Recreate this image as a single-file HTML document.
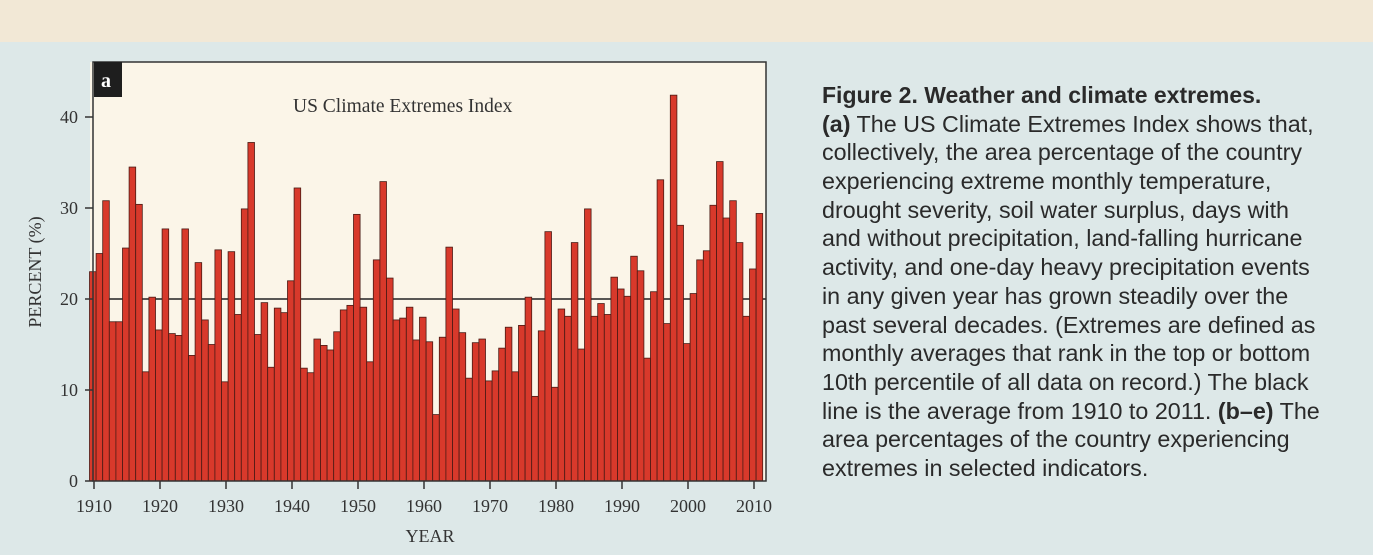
<!DOCTYPE html>
<html><head><meta charset="utf-8"><style>
body{margin:0;width:1373px;height:555px;overflow:hidden;background:#dde8e8;font-family:"Liberation Sans",sans-serif;}
#bgtop{position:absolute;left:0;top:0;width:1373px;height:42px;background:#f2e8d6;}
#cap{position:absolute;left:822px;top:81px;width:545px;font-size:23.3px;line-height:28.7px;color:#2a2a2a;white-space:nowrap;}
#cap div{height:28.7px;}
</style></head><body>
<div id="bgtop"></div>
<svg width="1373" height="555" style="position:absolute;left:0;top:0">
<rect x="90" y="62" width="676" height="419" fill="#fbf5e8"/>
<g id="grid"></g>
<g id="bars"></g>
<g id="axes"></g>
<rect x="94" y="62" width="28" height="35" fill="#1e1e1e"/>
<text x="101" y="87" font-family="Liberation Serif,serif" font-size="20" font-weight="bold" fill="#fff">a</text>
<text x="293" y="112" font-family="Liberation Serif,serif" font-size="19.5" fill="#333">US Climate Extremes Index</text>
<text x="430" y="542" text-anchor="middle" font-family="Liberation Serif,serif" font-size="18" fill="#333">YEAR</text>
<text transform="translate(41,272) rotate(-90)" text-anchor="middle" font-family="Liberation Serif,serif" font-size="18" fill="#333">PERCENT (%)</text>
</svg>
<div id="cap">
<div><b style="font-size:23px">Figure 2. Weather and climate extremes.</b></div>
<div><b>(a)</b> The US Climate Extremes Index shows that,</div>
<div>collectively, the area percentage of the country</div>
<div>experiencing extreme monthly temperature,</div>
<div>drought severity, soil water surplus, days with</div>
<div>and without precipitation, land-falling hurricane</div>
<div>activity, and one-day heavy precipitation events</div>
<div>in any given year has grown steadily over the</div>
<div>past several decades. (Extremes are defined as</div>
<div>monthly averages that rank in the top or bottom</div>
<div>10th percentile of all data on record.) The black</div>
<div>line is the average from 1910 to 2011. <b>(b–e)</b> The</div>
<div>area percentages of the country experiencing</div>
<div>extremes in selected indicators.</div>
</div>
<script>
const startYear=1910;
const values=[23,25,30.8,17.5,17.5,25.6,34.5,30.4,12,20.2,16.6,27.7,16.2,16,27.7,13.8,24,17.7,15,25.4,10.9,25.2,18.3,29.9,37.2,16.1,19.6,12.5,19,18.5,22,32.2,12.4,11.9,15.6,14.9,14.4,16.4,18.8,19.3,29.3,19.1,13.1,24.3,32.9,22.3,17.7,17.9,19.1,15.5,18.0,15.3,7.3,15.8,25.7,18.9,16.3,11.3,15.2,15.6,11.0,12.1,14.6,16.9,12.0,17.1,20.2,9.3,16.5,27.4,10.3,18.9,18.1,26.2,14.5,29.9,18.1,19.5,18.3,22.4,21.1,20.3,24.7,23.1,13.5,20.8,33.1,17.3,42.4,28.1,15.1,20.6,24.3,25.3,30.3,35.1,28.9,30.8,26.2,18.1,23.3,29.4];
const meanValue=20;
const yTicks=[0,10,20,30,40];
const xTicks=[1910,1920,1930,1940,1950,1960,1970,1980,1990,2000,2010];
const NS="http://www.w3.org/2000/svg";
const bw=6.6, x0=89.5;
function xs(i){return x0+i*bw;}
function ys(v){return 481-v*9.1;}
function mk(t,a,p){const e=document.createElementNS(NS,t);for(const k in a)e.setAttribute(k,a[k]);p.appendChild(e);return e;}
const grid=document.getElementById('grid'),bars=document.getElementById('bars'),axes=document.getElementById('axes');
const ml=mk('line',{x1:90,x2:766,y1:ys(meanValue),y2:ys(meanValue),stroke:'#222','stroke-width':1.6},grid);


values.forEach((v,i)=>{
  const r=mk('rect',{x:xs(i),y:ys(v),width:bw,height:481-ys(v),fill:'#d8392b',stroke:'#4a1a14','stroke-width':0.8},bars);
  
  
});
const fr=mk('rect',{x:93,y:62,width:673,height:419,fill:'none',stroke:'#333','stroke-width':1.5},axes);


yTicks.forEach(t=>{
  const l=mk('line',{x1:85,x2:93,y1:ys(t),y2:ys(t),stroke:'#333','stroke-width':1.5},axes);
  
  
  const tx=mk('text',{x:78,y:ys(t)+6,'text-anchor':'end','font-family':'Liberation Serif,serif','font-size':18,fill:'#333'},axes);
  tx.textContent=t;
  
  
});
xTicks.forEach(t=>{
  const x=94+(t-1910)*6.6;
  const l=mk('line',{x1:x,x2:x,y1:481,y2:489,stroke:'#333','stroke-width':1.5},axes);
  
  
  const tx=mk('text',{x:x,y:512,'text-anchor':'middle','font-family':'Liberation Serif,serif','font-size':18,fill:'#333'},axes);
  tx.textContent=t;
  
  
});
</script>
</body></html>
